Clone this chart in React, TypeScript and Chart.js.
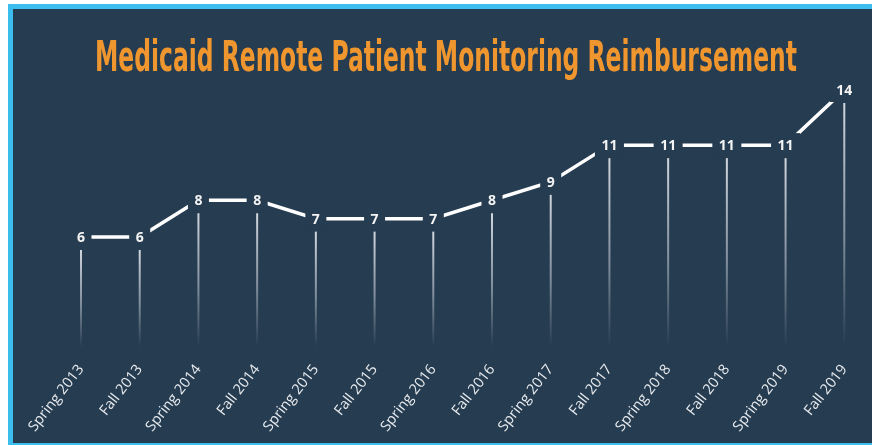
import React, { useEffect, useRef } from "react";
import { Chart, registerables } from "chart.js";

Chart.register(...registerables);

const TITLE = "Medicaid Remote Patient Monitoring Reimbursement";
const categories = [
  "Spring 2013", "Fall 2013", "Spring 2014", "Fall 2014", "Spring 2015", "Fall 2015",
  "Spring 2016", "Fall 2016", "Spring 2017", "Fall 2017", "Spring 2018", "Fall 2018",
  "Spring 2019", "Fall 2019",
];
const values = [6, 6, 8, 8, 7, 7, 7, 8, 9, 11, 11, 11, 11, 14];

const BG = "#263c51";
const BORDER = "#3bbeee";
const TITLE_COLOR = "#f0962f";

export default function App() {
  const ref = useRef<HTMLCanvasElement>(null);

  useEffect(() => {
    const canvas = ref.current;
    if (!canvas) return;

    const dropLines = {
      id: "dropLines",
      beforeDatasetsDraw(chart: any) {
        const meta = chart.getDatasetMeta(0);
        const ctx = chart.ctx;
        const bottom = chart.scales.y.getPixelForValue(0);
        ctx.save();
        meta.data.forEach((pt: any) => {
          const top = pt.y + 13;
          const g = ctx.createLinearGradient(0, top, 0, bottom);
          g.addColorStop(0, "rgba(220,224,230,0.95)");
          g.addColorStop(0.55, "rgba(190,198,208,0.6)");
          g.addColorStop(1, "rgba(190,198,208,0)");
          ctx.strokeStyle = g;
          ctx.lineWidth = 2;
          ctx.beginPath();
          ctx.moveTo(pt.x, top);
          ctx.lineTo(pt.x, bottom);
          ctx.stroke();
        });
        ctx.restore();
      },
    };

    const valueLabels = {
      id: "valueLabels",
      afterDatasetsDraw(chart: any) {
        const meta = chart.getDatasetMeta(0);
        const ctx = chart.ctx;
        ctx.save();
        ctx.font = "bold 14px 'Open Sans', sans-serif";
        meta.data.forEach((pt: any, i: number) => {
          const txt = String(values[i]);
          const w = ctx.measureText(txt).width;
          ctx.fillStyle = BG;
          ctx.fillRect(pt.x - w / 2 - 6.5, pt.y - 12, w + 13, 24);
        });
        ctx.fillStyle = "#f4f4f4";
        ctx.textAlign = "center";
        ctx.textBaseline = "middle";
        meta.data.forEach((pt: any, i: number) => {
          ctx.fillText(String(values[i]), pt.x, pt.y + 1);
        });
        ctx.restore();
      },
    };

    const bigTitle = {
      id: "bigTitle",
      afterDraw(chart: any) {
        const ctx = chart.ctx;
        ctx.save();
        ctx.font = "bold 42px 'Liberation Sans Narrow', 'DejaVu Sans Condensed', 'Liberation Sans', sans-serif";
        const w = ctx.measureText(TITLE).width;
        const sx = 702 / w;
        ctx.translate(446, 71);
        ctx.scale(sx, 1);
        ctx.fillStyle = TITLE_COLOR;
        ctx.textAlign = "center";
        ctx.textBaseline = "alphabetic";
        ctx.fillText(TITLE, 0, 0);
        ctx.restore();
      },
    };

    const chart = new Chart(canvas, {
      type: "line",
      data: {
        labels: categories,
        datasets: [
          {
            data: values,
            borderColor: "#ffffff",
            borderWidth: 3.5,
            pointRadius: 0,
            tension: 0,
            fill: false,
          },
        ],
      },
      options: {
        responsive: false,
        animation: false,
        layout: { padding: { left: 81, right: 27, top: 71.625, bottom: 0 } },
        plugins: {
          legend: { display: false },
          tooltip: { enabled: false },
          title: { display: false },
        },
        scales: {
          x: {
            offset: false,
            grid: { display: false, drawTicks: false },
            border: { display: false },
            ticks: {
              color: "#e8ebee",
              font: { family: "'Open Sans', sans-serif", size: 14.5 },
              maxRotation: 52,
              minRotation: 52,
              autoSkip: false,
              padding: 14,
            },
            afterFit: (s: any) => {
              s.height = 97.75;
            },
          },
          y: { display: false, min: 0, max: 15 },
        },
      },
      plugins: [dropLines, valueLabels, bigTitle],
    });

    return () => chart.destroy();
  }, []);

  return (
    <div style={{ position: "fixed", left: 0, top: 0, width: 872, height: 445, overflow: "hidden" }}>
      <div
        style={{
          position: "absolute",
          left: 8,
          top: 4,
          width: 900,
          height: 444,
          boxSizing: "border-box",
          border: `5px solid ${BORDER}`,
          background: BG,
        }}
      />
      <canvas
        ref={ref}
        width={872}
        height={445}
        style={{ position: "absolute", left: 0, top: 0, width: 872, height: 445 }}
      />
    </div>
  );
}
